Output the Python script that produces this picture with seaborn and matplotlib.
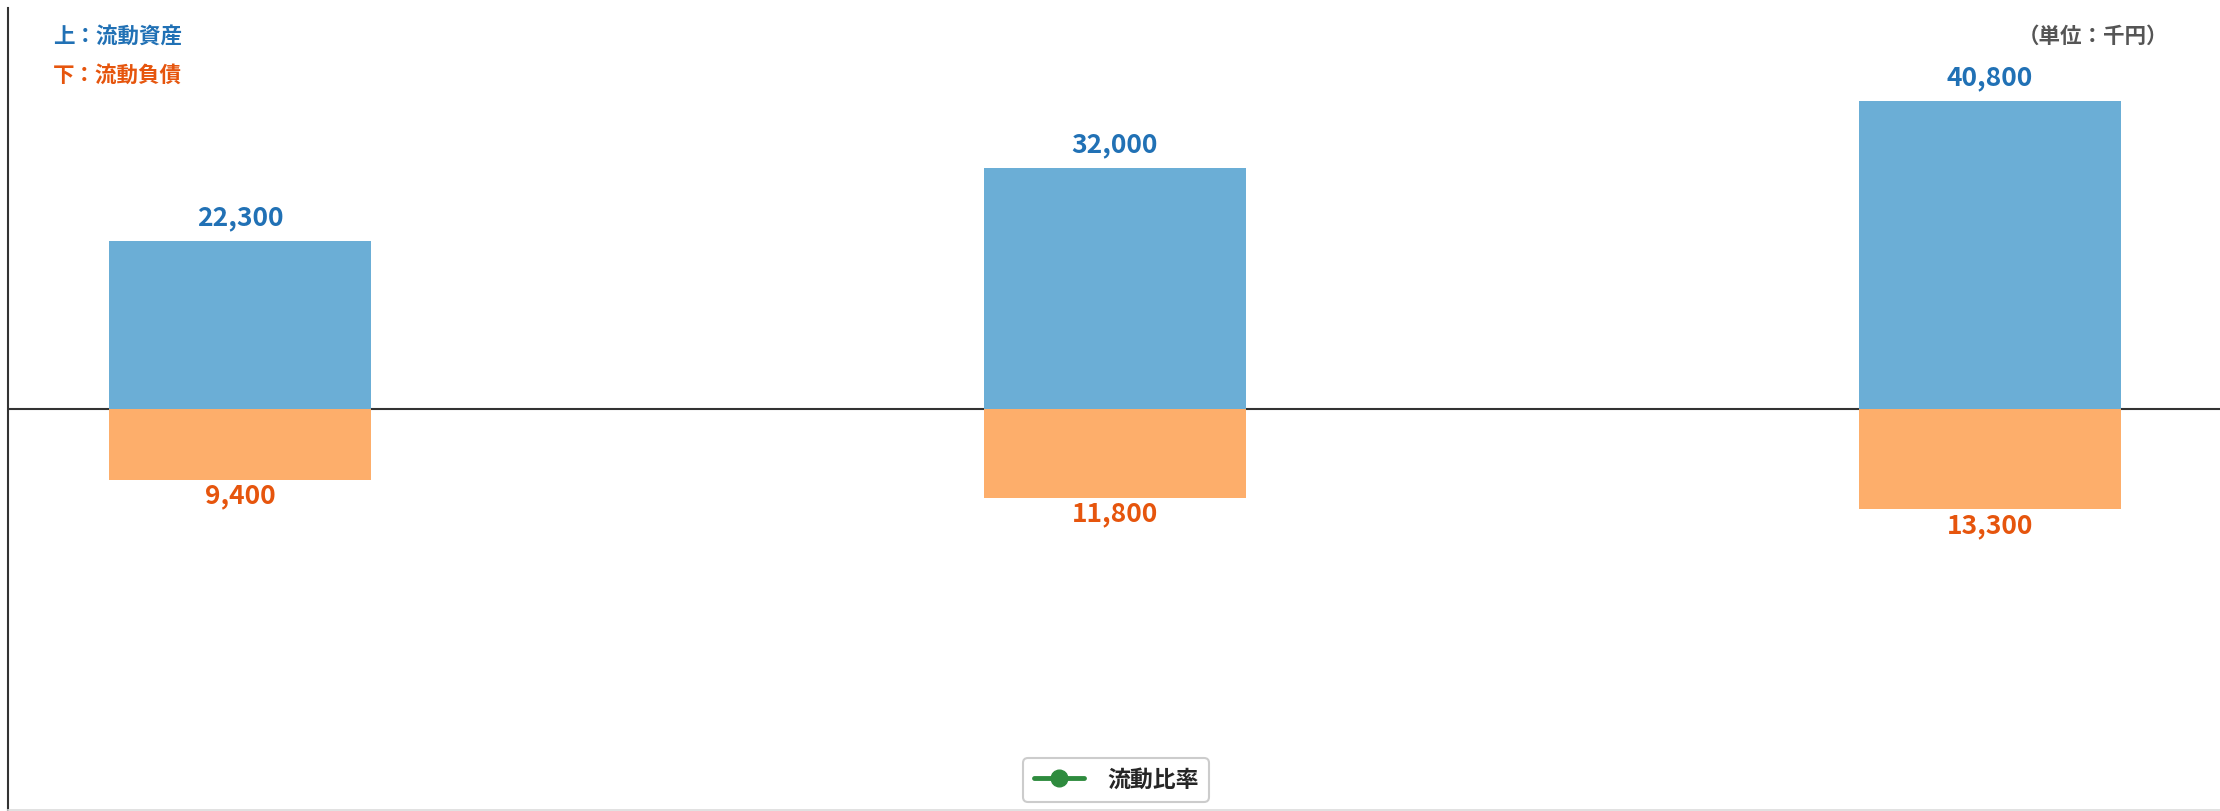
import matplotlib
matplotlib.use("Agg")
import matplotlib.pyplot as plt
import seaborn as sns
import pandas as pd
from matplotlib.lines import Line2D

# data (単位：千円)
periods = ["第1期", "第2期", "第3期"]
current_assets = [22300, 32000, 40800]
current_liabilities = [9400, 11800, 13300]

asset_fill = "#6baed6"
liab_fill = "#fdae6b"
asset_text = "#2171b5"
liab_text = "#e6550d"

sns.set_theme(style="white")
plt.rcParams['font.family'] = ['Noto Sans CJK JP', 'DejaVu Sans']

df = pd.DataFrame({
    "period": periods,
    "assets": current_assets,
    "liabilities": [-v for v in current_liabilities],
})

fig = plt.figure(figsize=(22.2, 8.11), dpi=100)
ax = fig.add_axes([8 / 2220, 1 / 811, 1 - 8 / 2220, 802 / 811])

sns.barplot(data=df, x="period", y="assets", color=asset_fill, width=0.3,
            saturation=1, linewidth=0, ax=ax)
sns.barplot(data=df, x="period", y="liabilities", color=liab_fill, width=0.3,
            saturation=1, linewidth=0, ax=ax)

ax.set_xlim(-0.265, 2.263)
ax.set_ylim(-53200, 53200)
ax.axhline(0, color="#333333", lw=1.5, zorder=0.5)

for i, (a, l) in enumerate(zip(current_assets, current_liabilities)):
    ax.annotate(f"{a:,}", (i, a), xytext=(0, 7), textcoords="offset points",
                ha="center", va="bottom", fontsize=19, fontweight="bold",
                color=asset_text)
    ax.annotate(f"{l:,}", (i, -l), xytext=(0, -2), textcoords="offset points",
                ha="center", va="top", fontsize=19, fontweight="bold",
                color=liab_text)

ax.set_xticks([])
ax.set_yticks([])
ax.set_xlabel("")
ax.set_ylabel("")
for s in ["top", "right"]:
    ax.spines[s].set_visible(False)
ax.spines["left"].set_color("#333333")
ax.spines["left"].set_linewidth(1.5)
ax.spines["bottom"].set_color("#dddddd")

fig.text(53 / 2220, 1 - 36 / 811, "上：流動資産", color=asset_text,
         fontsize=15.5, fontweight="bold", va="center", ha="left")
fig.text(53 / 2220, 1 - 75 / 811, "下：流動負債", color=liab_text,
         fontsize=15.5, fontweight="bold", va="center", ha="left")
fig.text(2168 / 2220, 1 - 36 / 811, "（単位：千円）", color="#555555",
         fontsize=15.5, fontweight="bold", va="center", ha="right")

handle = Line2D([], [], color="#2e8b3e", lw=3.5, marker="o", markersize=12)
leg = ax.legend([handle], ["流動比率"], loc="center",
                bbox_to_anchor=(1116 / 2220, 1 - 780 / 811),
                bbox_transform=fig.transFigure, frameon=True,
                prop={"size": 16.5, "weight": "bold"}, handlelength=2.2,
                fancybox=True, edgecolor="#cccccc", framealpha=1,
                borderpad=0.45, handletextpad=1.0)
leg.get_frame().set_linewidth(1.5)

fig.savefig("out.png", dpi=100)
